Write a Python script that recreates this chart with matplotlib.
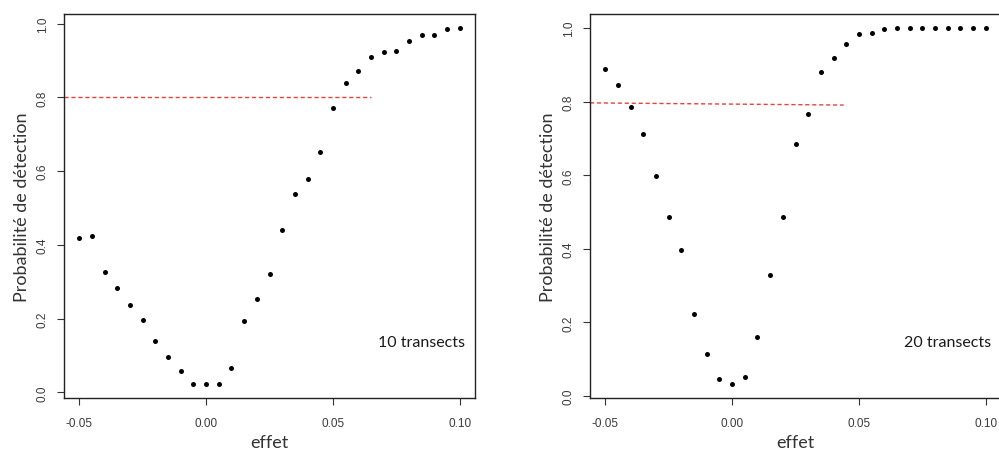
import numpy as np
import matplotlib
matplotlib.use('Agg')
import matplotlib.pyplot as plt

plt.rcParams['axes.unicode_minus'] = False
plt.rcParams['font.family'] = ['Liberation Sans', 'DejaVu Sans']

effet = np.round(np.arange(-0.05, 0.1001, 0.005), 3)

# probabilite de detection, 10 transects
p10 = [0.419, 0.424, 0.326, 0.282, 0.236, 0.195, 0.138, 0.097, 0.057, 0.023,
       0.023, 0.023, 0.065, 0.194, 0.252, 0.322, 0.440, 0.539, 0.578, 0.652,
       0.772, 0.840, 0.873, 0.909, 0.923, 0.926, 0.953, 0.970, 0.970, 0.986,
       0.988]
# probabilite de detection, 20 transects
p20 = [0.890, 0.846, 0.787, 0.711, 0.598, 0.486, 0.398, 0.222, 0.114, 0.047,
       0.033, 0.052, 0.160, 0.330, 0.486, 0.686, 0.767, 0.880, 0.918, 0.957,
       0.983, 0.986, 0.997, 1.0, 1.0, 1.0, 1.0, 1.0, 1.0, 1.0,
       1.0]

seuil10 = (0.8, 0.8)
fin10 = 0.065
seuil20 = (0.797, 0.791)
fin20 = 0.044

panels = [
    (p10, seuil10, fin10, '10 transects', [64 / 999, 53 / 452, 411 / 999, 384 / 452]),
    (p20, seuil20, fin20, '20 transects', [590 / 999, 53 / 452, 411 / 999, 384 / 452]),
]

fig = plt.figure(figsize=(9.99, 4.52), dpi=100)
lab_font = ['Lato', 'DejaVu Sans']

for p, seuil, fin, txt, pos in panels:
    ax = fig.add_axes(pos)
    ax.plot(effet, p, 'o', color='black', markersize=3.6, markeredgewidth=0)
    # R-style 4% padding
    x0, x1 = effet.min(), effet.max()
    dx = (x1 - x0) * 0.04
    y0, y1 = min(p), max(p)
    dy = (y1 - y0) * 0.04
    ax.set_xlim(x0 - dx, x1 + dx)
    ax.set_ylim(y0 - dy, y1 + dy)
    ax.plot([x0 - dx, fin], seuil, '--', color='#e8413c', linewidth=1.0,
            dashes=(3, 2))
    ax.set_xticks([-0.05, 0.0, 0.05, 0.10])
    ax.set_xticklabels(['-0.05', '0.00', '0.05', '0.10'])
    ax.set_yticks([0, 0.2, 0.4, 0.6, 0.8, 1.0])
    ax.set_yticklabels(['0.0', '0.2', '0.4', '0.6', '0.8', '1.0'],
                       rotation=90, va='center')
    ax.tick_params(length=5, width=0.8, color='#333333', labelsize=8.5,
                   labelcolor='#3a3a3a')
    ax.tick_params(axis='x', pad=9)
    ax.tick_params(axis='y', pad=6)
    for s in ax.spines.values():
        s.set_color('#222222')
        s.set_linewidth(1.0)
    ax.set_xlabel('effet', family=lab_font, fontsize=13, color='#333333',
                  labelpad=3)
    ax.set_ylabel('Probabilité de détection', family=lab_font, fontsize=13,
                  color='#333333', labelpad=5)
    ax.text(0.869, 0.146, txt, transform=ax.transAxes, ha='center',
            va='center', family=lab_font, fontsize=11.5, color='#1a1a1a')

fig.savefig('out.png', dpi=100)
